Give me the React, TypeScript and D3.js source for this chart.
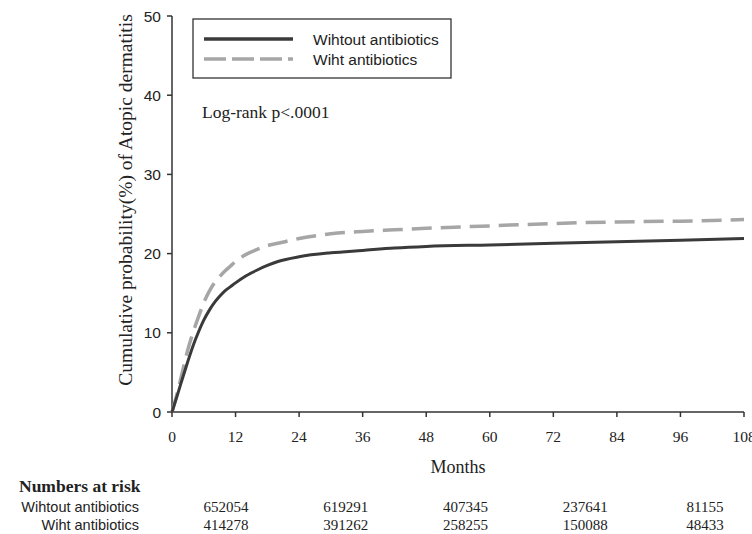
import React from "react";
import * as d3 from "d3";

const months = [0, 1, 2, 3, 4, 5, 6, 7, 8, 9, 10, 11, 12, 14, 16, 18, 20, 24, 30, 36, 42, 48, 60, 72, 84, 96, 108];
const withoutAbx = [0, 2.1, 4.3, 6.4, 8.4, 10.1, 11.6, 12.8, 13.8, 14.6, 15.3, 15.8, 16.3, 17.2, 17.9, 18.5, 19.0, 19.6, 20.1, 20.4, 20.7, 20.9, 21.1, 21.3, 21.5, 21.7, 21.9];
const withAbx = [0, 2.4, 5.2, 7.9, 10.1, 12.0, 13.8, 15.2, 16.3, 17.1, 17.8, 18.4, 19.0, 19.9, 20.5, 21.0, 21.3, 21.9, 22.5, 22.8, 23.0, 23.2, 23.5, 23.8, 24.0, 24.1, 24.3];

const xTicks = [0, 12, 24, 36, 48, 60, 72, 84, 96, 108];
const yTicks = [0, 10, 20, 30, 40, 50];

const riskLabels = ["Wihtout antibiotics", "Wiht antibiotics"];
const riskWithout = [652054, 619291, 407345, 237641, 81155];
const riskWith = [414278, 391262, 258255, 150088, 48433];

const serif = "'Liberation Serif', 'Times New Roman', serif";
const sans = "'Liberation Sans', Arial, sans-serif";

export default function App() {
  const width = 752;
  const height = 534;
  const x = d3.scaleLinear().domain([0, 108]).range([172, 744]);
  const y = d3.scaleLinear().domain([0, 50]).range([412, 16]);
  const line = d3
    .line<number>()
    .x((_, i) => x(months[i]))
    .y((d) => y(d))
    .curve(d3.curveMonotoneX);

  const riskX = d3.scalePoint<number>().domain(d3.range(riskWithout.length)).range([226, 705]);

  return (
    <svg width={width} height={height} style={{ position: "absolute", left: 0, top: 0, background: "#fff" }}>
      {/* axes */}
      <line x1={x(0)} x2={x(108)} y1={y(0)} y2={y(0)} stroke="#333" strokeWidth={1.5} />
      <line x1={x(0)} x2={x(0)} y1={y(0)} y2={y(50)} stroke="#333" strokeWidth={1.5} />
      {xTicks.map((t) => (
        <g key={"x" + t}>
          <line x1={x(t)} x2={x(t)} y1={y(0)} y2={y(0) + 5} stroke="#333" strokeWidth={1.5} />
          <text x={x(t)} y={y(0) + 30} textAnchor="middle" fontFamily={serif} fontSize={15.5} fill="#222">
            {t}
          </text>
        </g>
      ))}
      {yTicks.map((t) => (
        <g key={"y" + t}>
          <line x1={x(0) - 5} x2={x(0)} y1={y(t)} y2={y(t)} stroke="#333" strokeWidth={1.5} />
          <text x={x(0) - 11} y={y(t) + 5.5} textAnchor="end" fontFamily={sans} fontSize={15.5} fill="#222">
            {t}
          </text>
        </g>
      ))}
      <text
        transform={`translate(132,${(y(0) + y(50)) / 2 - 14}) rotate(-90)`}
        textAnchor="middle"
        fontFamily={serif}
        fontSize={19.5}
        fill="#222"
      >
        Cumulative probability(%) of Atopic dermatitis
      </text>
      <text x={458} y={473} textAnchor="middle" fontFamily={serif} fontSize={18} fill="#222">
        Months
      </text>

      {/* curves */}
      <path d={line(withAbx) || ""} fill="none" stroke="#a6a6a6" strokeWidth={3.5} strokeDasharray="20,9" />
      <path d={line(withoutAbx) || ""} fill="none" stroke="#3a3a3a" strokeWidth={3} />

      {/* legend */}
      <rect x={193} y={19} width={258} height={59} fill="#fff" stroke="#333" strokeWidth={1.3} />
      <line x1={204} x2={293} y1={39} y2={39} stroke="#3a3a3a" strokeWidth={3.5} />
      <line x1={204} x2={293} y1={59} y2={59} stroke="#a6a6a6" strokeWidth={3.5} strokeDasharray="22,6" />
      <text x={313} y={45} fontFamily={sans} fontSize={15.5} fill="#222">
        Wihtout antibiotics
      </text>
      <text x={313} y={65} fontFamily={sans} fontSize={15.5} fill="#222">
        Wiht antibiotics
      </text>
      <text x={202} y={118} fontFamily={serif} fontSize={17.5} fill="#222">
        Log-rank p&lt;.0001
      </text>

      {/* numbers at risk */}
      <text x={19} y={492} fontFamily={serif} fontSize={17.5} fontWeight="bold" fill="#222">
        Numbers at risk
      </text>
      {[riskWithout, riskWith].map((row, r) => (
        <g key={"r" + r}>
          <text x={139} y={512 + r * 18} textAnchor="end" fontFamily={sans} fontSize={14.5} fill="#222">
            {riskLabels[r]}
          </text>
          {row.map((v, i) => (
            <text key={i} x={riskX(i)} y={512 + r * 18} textAnchor="middle" fontFamily={serif} fontSize={15} fill="#222">
              {v}
            </text>
          ))}
        </g>
      ))}
    </svg>
  );
}
